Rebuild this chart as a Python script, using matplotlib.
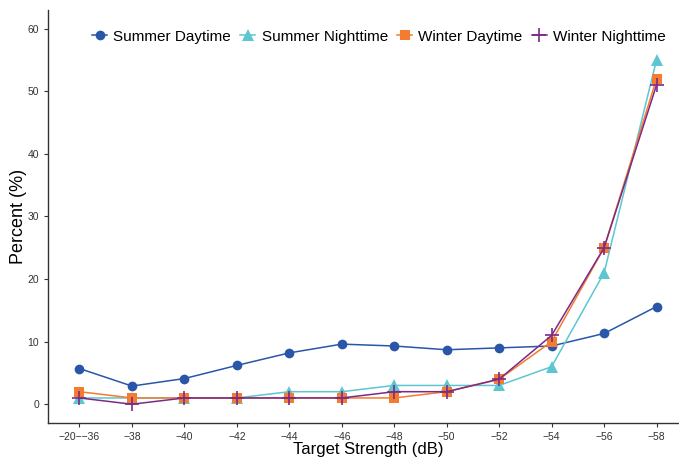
import matplotlib
matplotlib.use("Agg")
import matplotlib.pyplot as plt

plt.rcParams["font.family"] = ["Liberation Sans", "DejaVu Sans"]

strength_labels = ["\u221220\u2212\u221236", "\u221238", "\u221240", "\u221242", "\u221244", "\u221246",
                   "\u221248", "\u221250", "\u221252", "\u221254", "\u221256", "\u221258"]

summer_day = [5.7, 2.9, 4.1, 6.2, 8.2, 9.6, 9.3, 8.7, 9.0, 9.3, 11.3, 15.6]
summer_night = [1, 1, 1, 1, 2, 2, 3, 3, 3, 6, 21, 55]
winter_day = [2, 1, 1, 1, 1, 1, 1, 2, 4, 10, 25, 52]
winter_night = [1, 0, 1, 1, 1, 1, 2, 2, 4, 11, 25, 51]

series = [
    ("Summer Daytime", summer_day, "#2a56a8", "o", 7),
    ("Summer Nighttime", summer_night, "#5ec6d1", "^", 8),
    ("Winter Daytime", winter_day, "#f47b30", "s", 7),
    ("Winter Nighttime", winter_night, "#7b2a86", "+", 10),
]

fig = plt.figure(figsize=(6.79, 4.57), dpi=100)
# the panel runs past the right edge of the canvas
ax = fig.add_axes([0.0707, 0.0744, 0.9426, 0.904])

x = list(range(len(strength_labels)))
for name, vals, color, marker, size in series:
    ax.plot(x, vals, color=color, marker=marker, markersize=size, linewidth=1.1,
            markeredgewidth=1.2 if marker == "+" else 0, label=name, clip_on=False)

ax.set_xlim(-0.6, len(x) - 0.4)
ax.set_ylim(-3, 63)
ax.set_xticks(x)
ax.set_xticklabels(strength_labels)
ax.set_yticks(range(0, 61, 10))

for side in ("top", "right"):
    ax.spines[side].set_visible(False)
for side in ("left", "bottom"):
    ax.spines[side].set_color("#333333")
    ax.spines[side].set_linewidth(1.0)
ax.tick_params(axis="both", labelsize=7.5, length=3, color="#333333", labelcolor="#333333")

ax.set_xlabel("Target Strength (dB)", fontsize=12, labelpad=0)
ax.set_ylabel("Percent (%)", fontsize=13, labelpad=0.5)

ax.legend(loc="upper center", bbox_to_anchor=(0.517, 0.985), ncol=4, frameon=False,
          fontsize=11, handlelength=1.0, handletextpad=0.4, columnspacing=0.6)

fig.savefig("out.png", dpi=100)
